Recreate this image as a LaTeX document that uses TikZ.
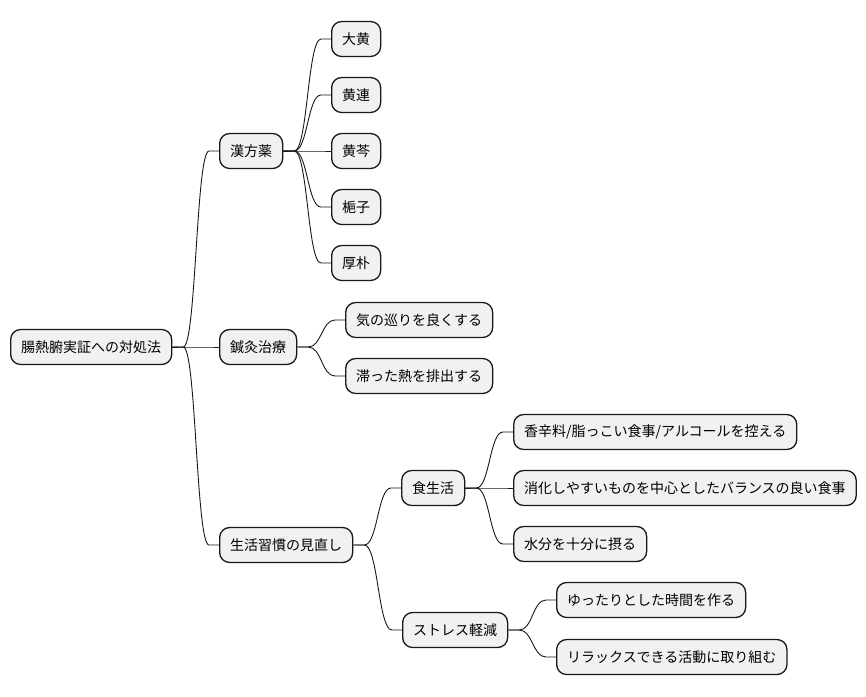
\documentclass[tikz,border=0pt]{standalone}
\usepackage{fontspec}
\newfontfamily\cjk{Noto Sans CJK JP}
\usetikzlibrary{calc}
\definecolor{boxfill}{HTML}{F1F1F1}
\definecolor{boxline}{HTML}{181818}
\tikzset{
  mm/.style={draw=boxline, fill=boxfill, line width=1.3pt, rounded corners=10pt,
    minimum height=35pt, inner xsep=10.5pt, inner ysep=0pt, anchor=west,
    font=\cjk\fontsize{14}{17}\selectfont, text=black},
  edge/.style={draw=boxline, line width=0.9pt}
}
\newcommand\mmedge[2]{%
  \draw[edge] let \p1=(#1.east), \p2=(#2.west), \n1={0.5*(\x2-\x1-21pt)} in
  (\p1) -- (\x1+11pt,\y1) .. controls (\x1+11pt+\n1,\y1) and (\x2-10pt-\n1,\y2) .. (\x2-10pt,\y2) -- (\p2);}
\begin{document}
\begin{tikzpicture}[x=1pt,y=-1pt]
\useasboundingbox (0,0) rectangle (866,696);
\node[mm] (root) at (10,347) {腸熱腑実証への対処法};
\node[mm] (kampo) at (219,151) {漢方薬};
\node[mm] (shin) at (219,347) {鍼灸治療};
\node[mm] (life) at (219,545) {生活習慣の見直し};
\node[mm] (k1) at (331,39) {大黄};
\node[mm] (k2) at (331,95) {黄連};
\node[mm] (k3) at (331,151) {黄芩};
\node[mm] (k4) at (331,207) {梔子};
\node[mm] (k5) at (331,263) {厚朴};
\node[mm] (s1) at (345,320) {気の巡りを良くする};
\node[mm] (s2) at (345,376) {滞った熱を排出する};
\node[mm] (diet) at (401,488) {食生活};
\node[mm] (d1) at (513,432) {香辛料/脂っこい食事/アルコールを控える};
\node[mm] (d2) at (513,488) {消化しやすいものを中心としたバランスの良い食事};
\node[mm] (d3) at (513,544) {水分を十分に摂る};
\node[mm] (stress) at (402,630) {ストレス軽減};
\node[mm] (t1) at (556,600) {ゆったりとした時間を作る};
\node[mm] (t2) at (556,657) {リラックスできる活動に取り組む};
\mmedge{root}{kampo}
\mmedge{root}{shin}
\mmedge{root}{life}
\mmedge{kampo}{k1}
\mmedge{kampo}{k2}
\mmedge{kampo}{k3}
\mmedge{kampo}{k4}
\mmedge{kampo}{k5}
\mmedge{shin}{s1}
\mmedge{shin}{s2}
\mmedge{life}{diet}
\mmedge{life}{stress}
\mmedge{diet}{d1}
\mmedge{diet}{d2}
\mmedge{diet}{d3}
\mmedge{stress}{t1}
\mmedge{stress}{t2}
\end{tikzpicture}
\end{document}
